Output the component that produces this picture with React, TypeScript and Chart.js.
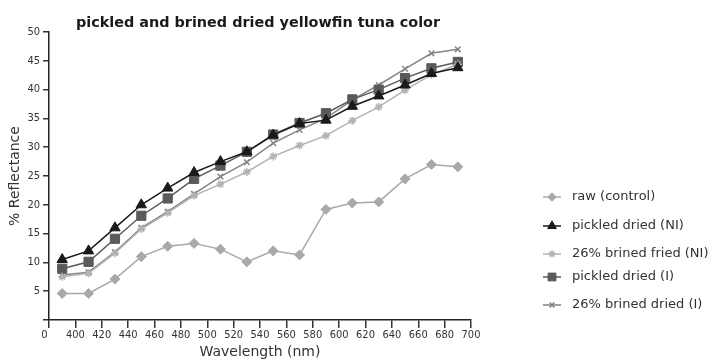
import React, { useEffect, useRef } from "react";
import { Chart, registerables } from "chart.js";
import { drawPoint } from "chart.js/helpers";

Chart.register(...registerables);

const chartTitle = "pickled and brined dried yellowfin tuna color";
const xAxisTitle = "Wavelength (nm)";
const yAxisTitle = "% Reflectance";

const wavelengths = [390, 410, 430, 450, 470, 490, 510, 530, 550, 570, 590, 610, 630, 650, 670, 690];

const rawControl = [4.6, 4.6, 7.1, 11.0, 12.8, 13.3, 12.3, 10.1, 12.0, 11.3, 19.2, 20.3, 20.5, 24.5, 27.0, 26.6];
const pickledDriedNI = [10.5, 12.0, 16.0, 20.0, 22.9, 25.6, 27.5, 29.2, 32.1, 34.1, 34.7, 37.1, 38.9, 40.8, 42.8, 43.8];
const brinedFriedNI = [7.5, 8.1, 11.6, 15.8, 18.6, 21.6, 23.6, 25.7, 28.4, 30.3, 32.0, 34.6, 37.0, 39.9, 42.6, 44.4];
const pickledDriedI = [8.9, 10.1, 14.1, 18.1, 21.1, 24.5, 26.8, 29.2, 32.2, 34.2, 35.9, 38.3, 40.0, 42.0, 43.7, 44.8];
const brinedDriedI = [7.8, 8.3, 11.8, 16.0, 18.8, 21.9, 24.9, 27.4, 30.7, 33.0, 35.0, 38.2, 40.8, 43.6, 46.3, 47.0];

const seriesLabels = [
  "raw (control)",
  "pickled dried (NI)",
  "26% brined fried (NI)",
  "pickled dried (I)",
  "26% brined dried (I)",
];

const toPoints = (vals: number[]) => vals.map((v, i) => ({ x: wavelengths[i], y: v }));

const overlayPlugin = {
  id: "overlay",
  afterDraw(chart: any) {
    const ctx = chart.ctx as CanvasRenderingContext2D;
    const area = chart.chartArea;
    ctx.save();
    // title
    ctx.fillStyle = "#1a1a1a";
    ctx.font = 'bold 14.4px "DejaVu Sans"';
    ctx.textAlign = "center";
    ctx.textBaseline = "middle";
    ctx.fillText(chartTitle, (area.left + area.right) / 2 - 2, 23);
    // legend
    const rows = [197, 226, 254, 277, 305];
    chart.data.datasets.forEach((ds: any, i: number) => {
      const y = rows[i];
      ctx.strokeStyle = ds.borderColor;
      ctx.lineWidth = 1.5;
      ctx.beginPath();
      ctx.moveTo(543, y);
      ctx.lineTo(561, y);
      ctx.stroke();
      ctx.fillStyle = ds.pointBackgroundColor;
      ctx.strokeStyle = ds.pointBorderColor;
      ctx.lineWidth = ds.pointBorderWidth;
      drawPoint(ctx, { pointStyle: ds.pointStyle, radius: ds.pointRadius * 0.85, borderWidth: ds.pointBorderWidth, rotation: 0 } as any, 552, y);
      ctx.fillStyle = "#333";
      ctx.font = '13px "DejaVu Sans"';
      ctx.textAlign = "left";
      ctx.textBaseline = "middle";
      ctx.fillText(ds.label, 572, y);
    });
    ctx.restore();
  },
};

export default function App() {
  const ref = useRef<HTMLCanvasElement>(null);
  useEffect(() => {
    if (!ref.current) return;
    const mk = (label: string, vals: number[], color: string, style: string, radius: number, bw: number) => ({
      label,
      data: toPoints(vals),
      borderColor: color,
      backgroundColor: color,
      borderWidth: 1.5,
      pointStyle: style,
      pointRadius: radius,
      pointBackgroundColor: color,
      pointBorderColor: color,
      pointBorderWidth: bw,
      tension: 0,
    });
    const chart = new Chart(ref.current, {
      type: "line",
      data: {
        datasets: [
          mk(seriesLabels[0], rawControl, "#a9a9a9", "rectRot", 5, 1),
          mk(seriesLabels[1], pickledDriedNI, "#1a1a1a", "triangle", 6, 1),
          mk(seriesLabels[2], brinedFriedNI, "#b3b3b3", "star", 4, 1.5),
          mk(seriesLabels[3], pickledDriedI, "#5a5a5a", "rect", 6.5, 1),
          mk(seriesLabels[4], brinedDriedI, "#858585", "crossRot", 4, 1.5),
        ] as any,
      },
      options: {
        animation: false,
        responsive: false,
        maintainAspectRatio: false,
        layout: { padding: { left: 0, right: 243, top: 32, bottom: 0 } },
        plugins: { legend: { display: false }, title: { display: false }, tooltip: { enabled: false } },
        scales: {
          x: {
            type: "linear",
            min: 380,
            max: 700,
            afterFit: (s: any) => { s.height = 43; },
            ticks: {
              stepSize: 20,
              color: "#333",
              font: { family: '"DejaVu Sans Condensed", "DejaVu Sans"', size: 11 },
              padding: 1,
              maxRotation: 0,
              autoSkip: false,
              callback: (v: any) => (v === 380 ? "0   " : String(v)),
            },
            grid: { drawOnChartArea: false, drawTicks: true, tickLength: 8, color: "#333", lineWidth: 1.5 },
            border: { color: "#222", width: 1.5 },
            title: {
              display: true,
              text: xAxisTitle,
              color: "#333",
              font: { family: '"DejaVu Sans"', size: 14 },
              padding: { top: 0, bottom: 2 },
            },
          },
          y: {
            min: 0,
            max: 50,
            afterFit: (s: any) => { s.width = 49; },
            ticks: {
              stepSize: 5,
              color: "#333",
              font: { family: '"DejaVu Sans Condensed", "DejaVu Sans"', size: 11 },
              padding: 3,
              callback: (v: any) => (v === 0 ? "" : String(v)),
            },
            grid: { drawOnChartArea: false, drawTicks: true, tickLength: 6, color: "#333", lineWidth: 1.5 },
            border: { color: "#222", width: 1.5 },
            title: {
              display: true,
              text: yAxisTitle,
              color: "#333",
              font: { family: '"DejaVu Sans"', size: 14 },
              padding: { top: 6.5, bottom: 0 },
            },
          },
        },
      },
      plugins: [overlayPlugin],
    });
    return () => chart.destroy();
  }, []);
  return (
    <div style={{ position: "fixed", left: 0, top: 0, width: 714, height: 363, background: "#fff" }}>
      <canvas ref={ref} width={714} height={363} style={{ width: 714, height: 363 }} />
    </div>
  );
}
